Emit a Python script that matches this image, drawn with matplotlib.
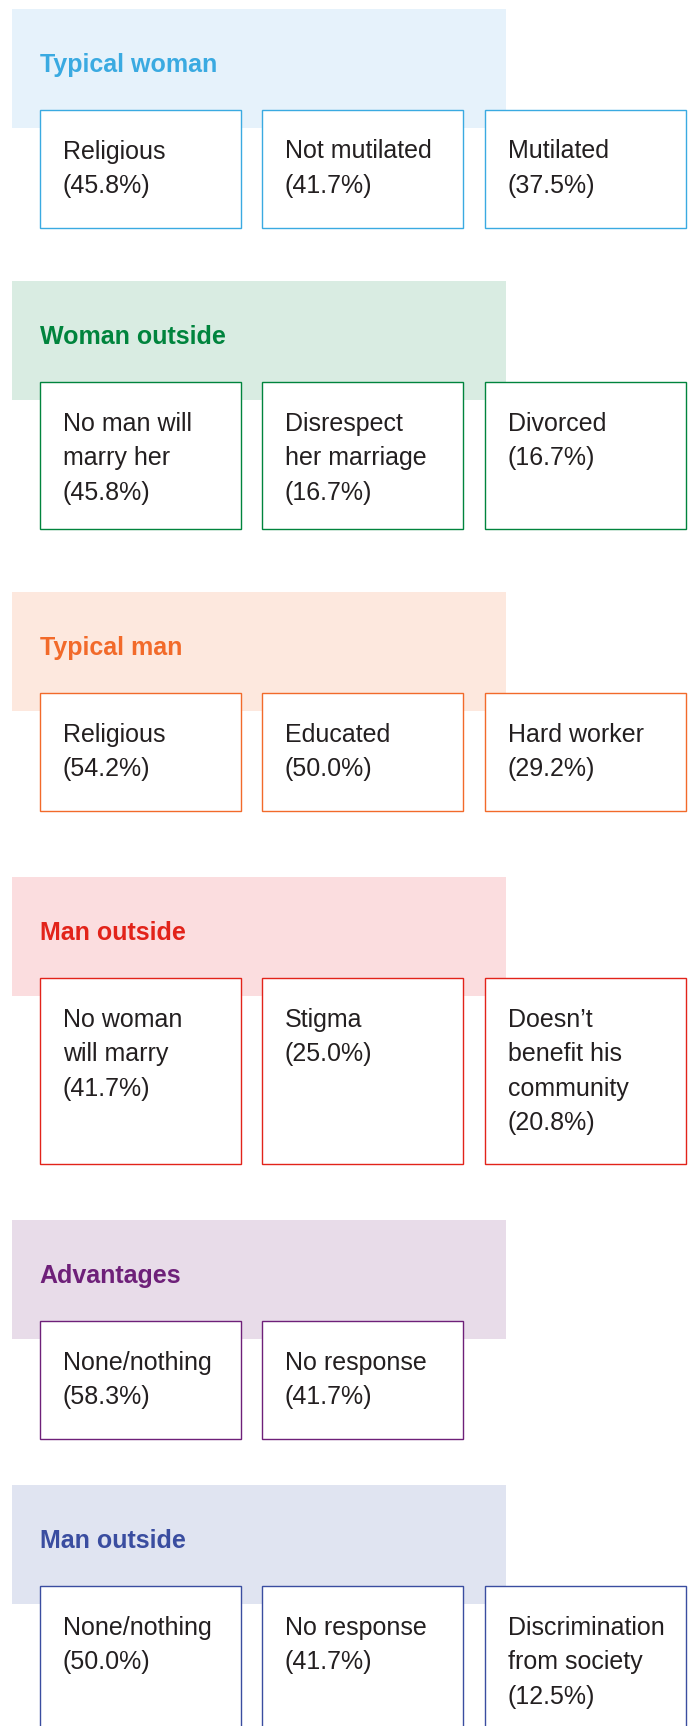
import matplotlib.pyplot as plt
from matplotlib.patches import Rectangle

# Dados
titulos = ["Typical woman", "Woman outside", "Typical man",
           "Man outside", "Advantages", "Man outside"]

rotulos = [
    ["Religious", "Not mutilated", "Mutilated"],
    ["No man will\nmarry her", "Disrespect\nher marriage", "Divorced"],
    ["Religious", "Educated", "Hard worker"],
    ["No woman\nwill marry", "Stigma", "Doesn\u2019t\nbenefit his\ncommunity"],
    ["None/nothing", "No response"],
    ["None/nothing", "No response", "Discrimination\nfrom society"],
]

valores = [
    [45.8, 41.7, 37.5],
    [45.8, 16.7, 16.7],
    [54.2, 50.0, 29.2],
    [41.7, 25.0, 20.8],
    [58.3, 41.7],
    [50.0, 41.7, 12.5],
]

cores = ["#3AAAE1", "#00843D", "#F26A2A", "#E2231A", "#6E2079", "#3A4DA0"]
fundos = ["#E6F2FB", "#D9ECE2", "#FDE8DE", "#FBDDDF", "#E8DCE9", "#E0E4F1"]

# Layout (pixels)
W, H = 691, 1726
topos = [9, 281, 592, 877, 1220, 1485]
caixa_x = [39.6, 262, 485]
caixa_w = 201
altura_caixa = {2: 118, 3: 147, 4: 186}
fonte = "Liberation Sans"
tam = 18
entrelinha = 34.5

fig = plt.figure(figsize=(W / 100, H / 100), dpi=100)
ax = fig.add_axes([0, 0, 1, 1])
ax.set_xlim(0, W)
ax.set_ylim(H, 0)
ax.axis("off")

for i, titulo in enumerate(titulos):
    y0 = topos[i]
    cor = cores[i]
    ax.add_patch(Rectangle((12, y0), 494, 119, facecolor=fundos[i],
                           edgecolor="none", zorder=1))
    ax.text(39.6, y0 + 63, titulo, color=cor, fontsize=tam,
            fontweight="bold", family=fonte, va="baseline", zorder=3)

    linhas = [r.split("\n") + ["(%.1f%%)" % v]
              for r, v in zip(rotulos[i], valores[i])]
    n = max(len(l) for l in linhas)
    h = altura_caixa[n]
    by = y0 + 101
    for j, texto in enumerate(linhas):
        x = caixa_x[j]
        ax.add_patch(Rectangle((x, by), caixa_w, h, facecolor="white",
                               edgecolor=cor, linewidth=1.0, zorder=2))
        for k, linha in enumerate(texto):
            ax.text(x + 23, by + 48.5 + k * entrelinha, linha, color="#231F20",
                    fontsize=tam, family=fonte, va="baseline", zorder=3)

fig.savefig("out.png", dpi=100)
